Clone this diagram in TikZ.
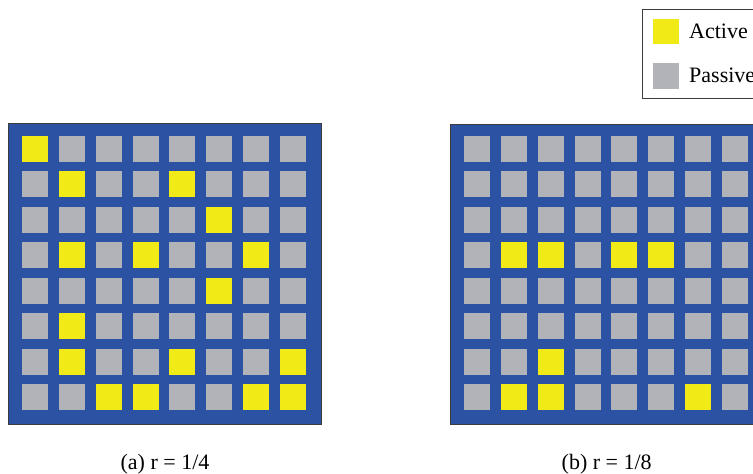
\documentclass[tikz,border=0pt]{standalone}
\usepackage{fontspec}
\setmainfont{Liberation Serif}
\definecolor{gridblue}{RGB}{44,83,163}
\definecolor{act}{RGB}{242,234,22}
\definecolor{pas}{RGB}{178,179,184}
\definecolor{frameline}{RGB}{60,60,60}
\tikzset{
  cell/.style={draw=none,minimum width=26pt,minimum height=26pt,inner sep=0pt,outer sep=0pt},
  panel/.style={fill=gridblue,draw=frameline,line width=1pt},
  lbl/.style={font=\fontsize{22}{25}\selectfont,inner sep=0pt},
}
\begin{document}
\begin{tikzpicture}[x=1pt,y=-1pt]
\clip (0,0) rectangle (753,474);
\fill[white] (0,0) rectangle (753,474);
% panels
\draw[panel] (8.3,123.3) rectangle (321.7,424.5);
\draw[panel] (450,124) rectangle (763.4,424.5);
% left grid r=1/4
\foreach \row [count=\r from 0] in {
  {1,0,0,0,0,0,0,0},
  {0,1,0,0,1,0,0,0},
  {0,0,0,0,0,1,0,0},
  {0,1,0,1,0,0,1,0},
  {0,0,0,0,0,1,0,0},
  {0,1,0,0,0,0,0,0},
  {0,1,0,0,1,0,0,1},
  {0,0,1,1,0,0,1,1}} {
  \foreach \v [count=\c from 0] in \row {
    \ifnum\v=1 \def\cc{act}\else\def\cc{pas}\fi
    \node[cell,fill=\cc] (a\r\c) at (35+36.86*\c,148.7+35.47*\r) {};
  }
}
% right grid r=1/8
\foreach \row [count=\r from 0] in {
  {0,0,0,0,0,0,0,0},
  {0,0,0,0,0,0,0,0},
  {0,0,0,0,0,0,0,0},
  {0,1,1,0,1,1,0,0},
  {0,0,0,0,0,0,0,0},
  {0,0,0,0,0,0,0,0},
  {0,0,1,0,0,0,0,0},
  {0,1,1,0,0,0,1,0}} {
  \foreach \v [count=\c from 0] in \row {
    \ifnum\v=1 \def\cc{act}\else\def\cc{pas}\fi
    \node[cell,fill=\cc] (b\r\c) at (477+36.86*\c,148.7+35.47*\r) {};
  }
}
% captions
\node[lbl,anchor=base] (capa) at (165,469) {(a) r = 1/4};
\node[lbl,anchor=base] (capb) at (606.7,469) {(b) r = 1/8};
% legend
\draw[fill=white,draw=frameline,line width=1pt] (642.7,9.3) rectangle (775,98.3);
\node[cell,fill=act,minimum height=25.5pt] (legact) at (665.8,31.7) {};
\node[cell,fill=pas] (legpas) at (665.8,75.7) {};
\node[lbl,anchor=base west] (txtact) at (689,38) {Active};
\node[lbl,anchor=base west] (txtpas) at (689,82) {Passive};
\end{tikzpicture}
\end{document}
